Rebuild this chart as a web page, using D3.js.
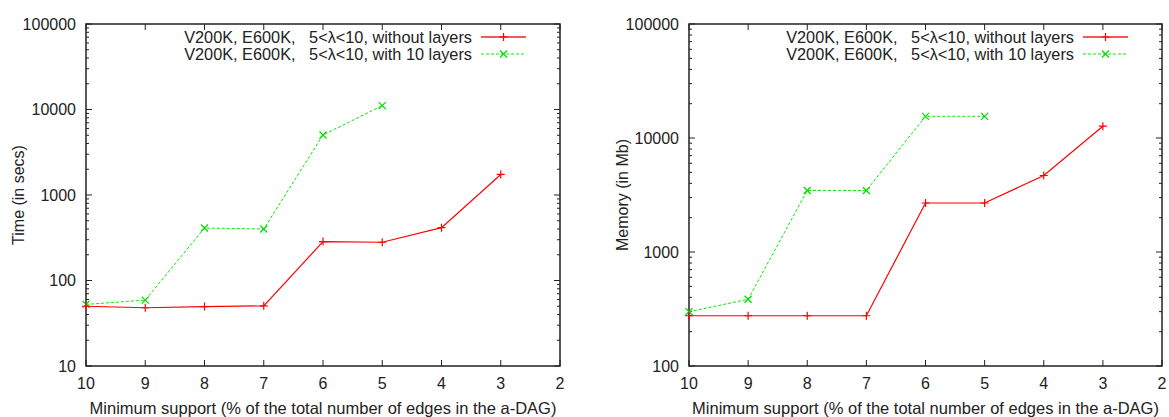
<!DOCTYPE html>
<html>
<head>
<meta charset="utf-8">
<script src="https://cdn.jsdelivr.net/npm/d3@7"></script>
<style>
  html, body { margin: 0; padding: 0; background: #fff; }
  svg text { font-family: "Liberation Sans", Arial, Helvetica, sans-serif; fill: #222; }
</style>
</head>
<body>
<svg id="chart" width="1169" height="417"></svg>
<script>
// ---- Data ----
const minSupport = [10, 9, 8, 7, 6, 5, 4, 3];
const xTicks = [10, 9, 8, 7, 6, 5, 4, 3, 2];
const seriesNames = [
  "V200K, E600K,   5<\u03bb<10, without layers",
  "V200K, E600K,   5<\u03bb<10, with 10 layers"
];
const timeWithoutLayers = [50, 48, 49.5, 50.5, 285, 280, 415, 1740];
const timeWithLayers = [52.5, 59, 411, 400, 5030, 11100];
const memWithoutLayers = [276, 276, 276, 276, 2690, 2690, 4690, 12700];
const memWithLayers = [299, 385, 3465, 3465, 15500, 15500];
const timeTicks = [10, 100, 1000, 10000, 100000];
const memTicks = [100, 1000, 10000, 100000];

const svg = d3.select("#chart");

function drawPanel(cfg) {
  const g = svg.append("g");
  const x = d3.scaleLinear().domain([10, 2]).range([cfg.left, cfg.right]);
  const y = d3.scaleLog().domain(cfg.yDomain).range([cfg.bottom, cfg.top]);

  // Frame
  g.append("rect")
    .attr("x", cfg.left).attr("y", cfg.top)
    .attr("width", cfg.right - cfg.left).attr("height", cfg.bottom - cfg.top)
    .attr("fill", "none").attr("stroke", "#222").attr("stroke-width", 1.5);

  // X ticks (bottom + mirrored top)
  xTicks.forEach(t => {
    const px = x(t);
    g.append("line").attr("x1", px).attr("x2", px)
      .attr("y1", cfg.bottom).attr("y2", cfg.bottom - 6)
      .attr("stroke", "#222").attr("stroke-width", 1);
    g.append("line").attr("x1", px).attr("x2", px)
      .attr("y1", cfg.top).attr("y2", cfg.top + 6)
      .attr("stroke", "#222").attr("stroke-width", 1);
    g.append("text").attr("x", px).attr("y", cfg.bottom + 23)
      .attr("text-anchor", "middle").attr("font-size", 16).text(t);
  });

  // Y major + minor ticks (left + mirrored right)
  const [lo, hi] = cfg.yDomain;
  for (let dec = lo; dec < hi; dec *= 10) {
    for (let m = 2; m <= 9; m++) {
      const py = y(dec * m);
      g.append("line").attr("x1", cfg.left).attr("x2", cfg.left + 3)
        .attr("y1", py).attr("y2", py).attr("stroke", "#222");
      g.append("line").attr("x1", cfg.right).attr("x2", cfg.right - 3)
        .attr("y1", py).attr("y2", py).attr("stroke", "#222");
    }
  }
  cfg.yTicks.forEach(t => {
    const py = y(t);
    g.append("line").attr("x1", cfg.left).attr("x2", cfg.left + 6)
      .attr("y1", py).attr("y2", py).attr("stroke", "#222");
    g.append("line").attr("x1", cfg.right).attr("x2", cfg.right - 6)
      .attr("y1", py).attr("y2", py).attr("stroke", "#222");
    g.append("text").attr("x", cfg.left - 10).attr("y", py)
      .attr("dy", "0.35em").attr("text-anchor", "end").attr("font-size", 16).text(t);
  });

  // Axis titles
  g.append("text")
    .attr("x", (cfg.left + cfg.right) / 2).attr("y", cfg.bottom + 48)
    .attr("text-anchor", "middle").attr("font-size", 16.5)
    .text("Minimum support (% of the total number of edges in the a-DAG)");
  g.append("text")
    .attr("transform", `translate(${cfg.yTitleX},${(cfg.top + cfg.bottom) / 2}) rotate(-90)`)
    .attr("text-anchor", "middle").attr("dy", "0.35em").attr("font-size", 16)
    .text(cfg.yTitle);

  const line = d3.line().x(d => x(d[0])).y(d => y(d[1]));
  const redPts = cfg.red.map((v, i) => [minSupport[i], v]);
  const greenPts = cfg.green.map((v, i) => [minSupport[i], v]);

  function plus(sel, cx, cy, color) {
    sel.append("path").attr("d", `M${cx - 4},${cy}H${cx + 4}M${cx},${cy - 4}V${cy + 4}`)
      .attr("stroke", color).attr("stroke-width", 1.2);
  }
  function cross(sel, cx, cy, color) {
    sel.append("path").attr("d", `M${cx - 3.5},${cy - 3.5}L${cx + 3.5},${cy + 3.5}M${cx - 3.5},${cy + 3.5}L${cx + 3.5},${cy - 3.5}`)
      .attr("stroke", color).attr("stroke-width", 1.2);
  }

  g.append("path").datum(greenPts).attr("d", line)
    .attr("fill", "none").attr("stroke", "#00ee00").attr("stroke-width", 1)
    .attr("stroke-dasharray", "3,2");
  greenPts.forEach(p => cross(g, x(p[0]), y(p[1]), "#00dd00"));

  g.append("path").datum(redPts).attr("d", line)
    .attr("fill", "none").attr("stroke", "#ff0000").attr("stroke-width", 1.2);
  redPts.forEach(p => plus(g, x(p[0]), y(p[1]), "#ff0000"));

  // Legend
  const lx1 = cfg.right - 79, lx2 = cfg.right - 34, lmid = (lx1 + lx2) / 2;
  const rows = [cfg.top + 13, cfg.top + 30];
  seriesNames.forEach((name, i) => {
    g.append("text").attr("x", lx1 - 9).attr("y", rows[i]).attr("dy", "0.35em")
      .attr("text-anchor", "end").attr("font-size", 16.3)
      .attr("xml:space", "preserve").style("white-space", "pre")
      .text(name);
  });
  g.append("line").attr("x1", lx1).attr("x2", lx2).attr("y1", rows[0]).attr("y2", rows[0])
    .attr("stroke", "#ff5555").attr("stroke-width", 2);
  plus(g, lmid, rows[0], "#ff0000");
  g.append("line").attr("x1", lx1).attr("x2", lx2).attr("y1", rows[1]).attr("y2", rows[1])
    .attr("stroke", "#00ee00").attr("stroke-width", 1).attr("stroke-dasharray", "3,2");
  cross(g, lmid, rows[1], "#00dd00");
}

drawPanel({
  left: 86, right: 560, top: 24, bottom: 366,
  yDomain: [10, 100000], yTicks: timeTicks,
  red: timeWithoutLayers, green: timeWithLayers,
  yTitle: "Time (in secs)", yTitleX: 18
});
drawPanel({
  left: 689, right: 1162, top: 24, bottom: 366,
  yDomain: [100, 100000], yTicks: memTicks,
  red: memWithoutLayers, green: memWithLayers,
  yTitle: "Memory (in Mb)", yTitleX: 622
});
</script>
</body>
</html>
